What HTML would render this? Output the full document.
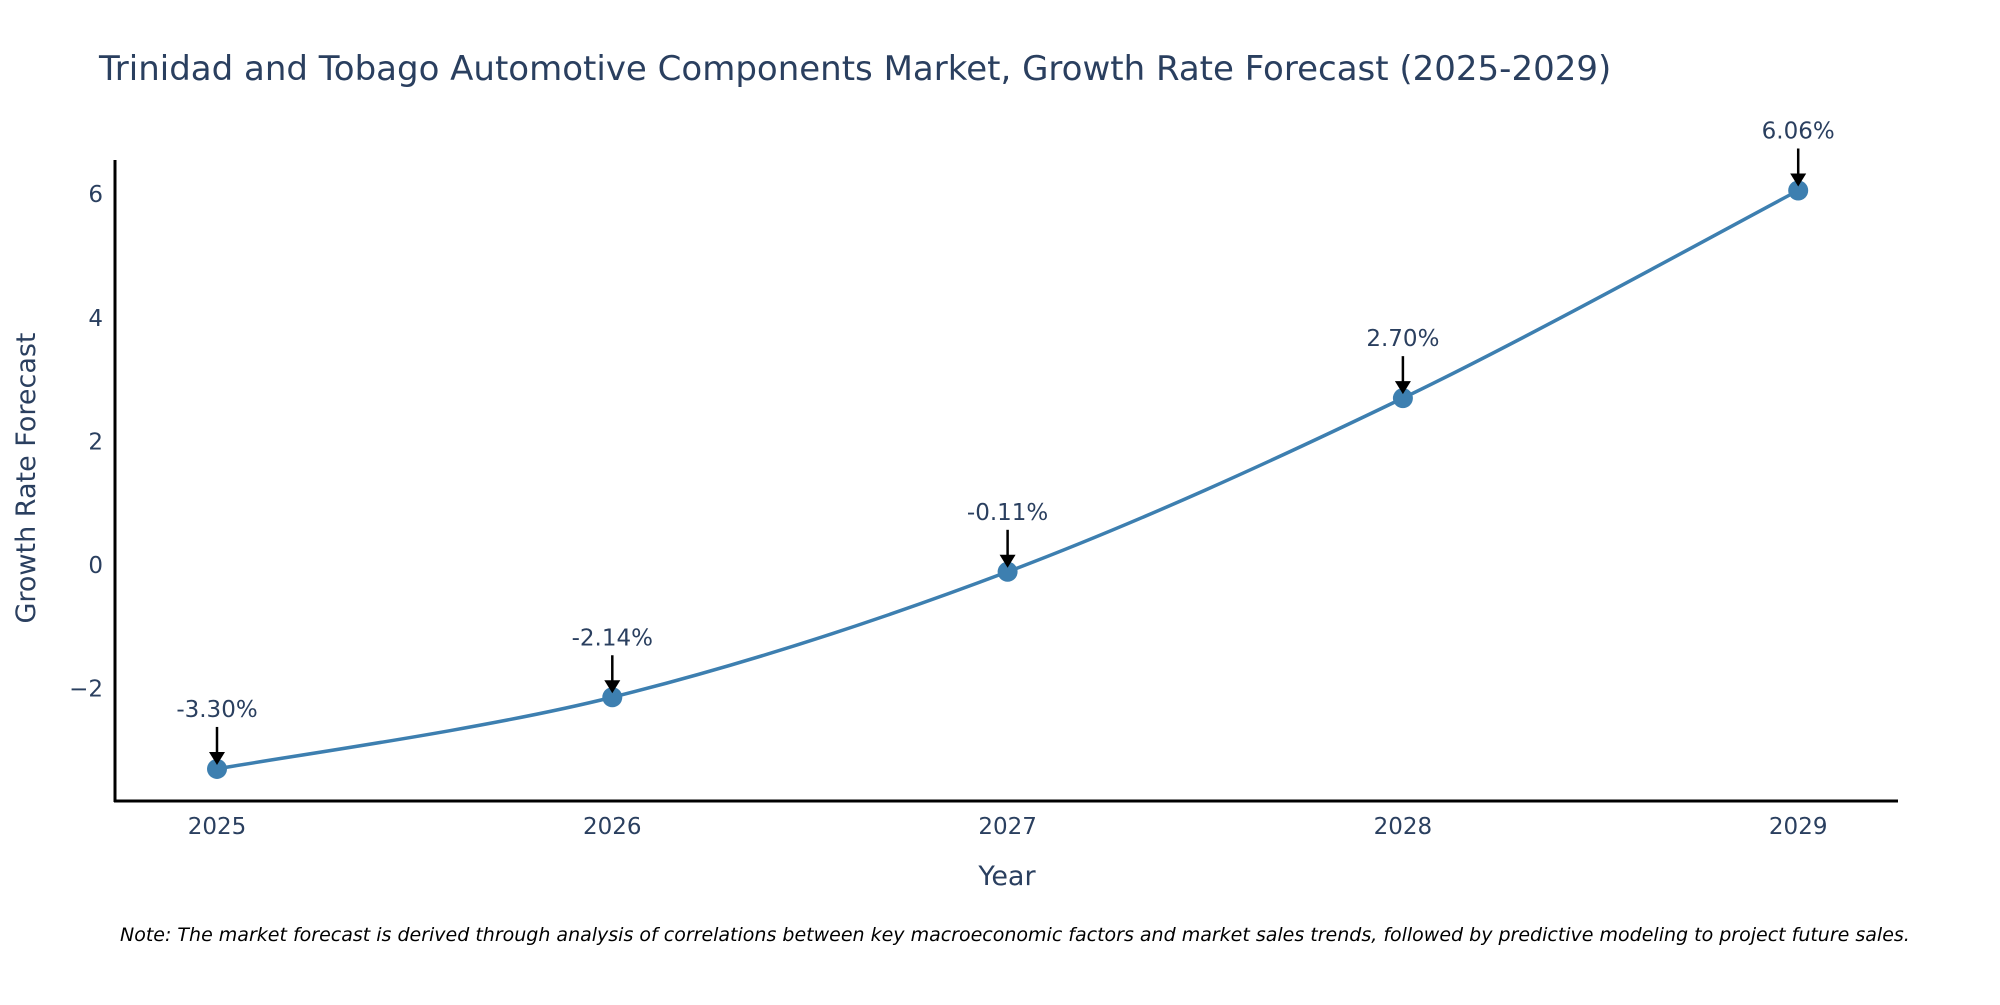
<!DOCTYPE html>
<html><head><meta charset="utf-8"><style>
body{margin:0;background:#fff;overflow:hidden;}
svg text{font-family:"DejaVu Sans","Liberation Sans",sans-serif;fill:#2a3f5f;}
</style></head><body>
<svg id="chart" width="2000" height="1000" xmlns="http://www.w3.org/2000/svg">
<text x="99" y="80" font-size="34">Trinidad and Tobago Automotive Components Market, Growth Rate Forecast (2025-2029)</text>
<g id="yticks"></g>
<g id="xticks"></g>
<path id="line" fill="none" stroke="#3d7fb0" stroke-width="3.5"></path>
<g id="marks"></g>
<g id="annos"></g>
<line x1="115" y1="160" x2="115" y2="802" stroke="#000" stroke-width="3"/>
<line x1="114" y1="801" x2="1898" y2="801" stroke="#000" stroke-width="3"/>
<text x="1007" y="885" font-size="27" text-anchor="middle">Year</text>
<text transform="translate(35,478) rotate(-90)" font-size="27" text-anchor="middle">Growth Rate Forecast</text>
<text x="120" y="941" font-size="19" font-style="italic" style="fill:#000">Note: The market forecast is derived through analysis of correlations between key macroeconomic factors and market sales trends, followed by predictive modeling to project future sales.</text>
</svg>
<script>
const years=[2025,2026,2027,2028,2029];
const values=[-3.30,-2.14,-0.11,2.70,6.06];
const yTicks=[-2,0,2,4,6];
const yTickLabels=["\u22122","0","2","4","6"];
const NS="http://www.w3.org/2000/svg";
function xs(v){return 217+(v-2025)*395.3;}
function ys(v){return 565-v*61.8;}
function mk(t,a,p){const e=document.createElementNS(NS,t);for(const k in a)e.setAttribute(k,a[k]);p.appendChild(e);return e;}
const yt=document.getElementById('yticks'),xt=document.getElementById('xticks');
yTicks.forEach((v,i)=>{const t=mk('text',{x:103,y:ys(v)+8,'font-size':23,'text-anchor':'end'},yt);


t.textContent=yTickLabels[i];});
years.forEach(y=>{const t=mk('text',{x:xs(y),y:834,'font-size':23,'text-anchor':'middle'},xt);


t.textContent=y;});
const pts=years.map((y,i)=>[xs(y),ys(values[i])]);
let d="M"+pts[0][0]+","+pts[0][1];
for(let i=0;i<pts.length-1;i++){const p0=pts[Math.max(0,i-1)],p1=pts[i],p2=pts[i+1],p3=pts[Math.min(pts.length-1,i+2)];
const c1=[p1[0]+(p2[0]-p0[0])/6,p1[1]+(p2[1]-p0[1])/6],c2=[p2[0]-(p3[0]-p1[0])/6,p2[1]-(p3[1]-p1[1])/6];
d+=" C"+c1+" "+c2+" "+p2;}
document.getElementById('line').setAttribute('d',d);
const mg=document.getElementById('marks'),ag=document.getElementById('annos');
pts.forEach((p,i)=>{const c=mk('circle',{cx:p[0],cy:p[1],r:10,fill:'#3d7fb0'},mg);


const l=mk('line',{x1:p[0],y1:p[1]-42,x2:p[0],y2:p[1]-14,stroke:'#000','stroke-width':2.5},ag);


const h=mk('path',{d:`M${p[0]-8},${p[1]-17} L${p[0]+8},${p[1]-17} L${p[0]},${p[1]-4} Z`,fill:'#000'},ag);


const t=mk('text',{x:p[0],y:p[1]-52,'font-size':23,'text-anchor':'middle'},ag);


t.textContent=values[i].toFixed(2)+"%";});
</script>
</body></html>
